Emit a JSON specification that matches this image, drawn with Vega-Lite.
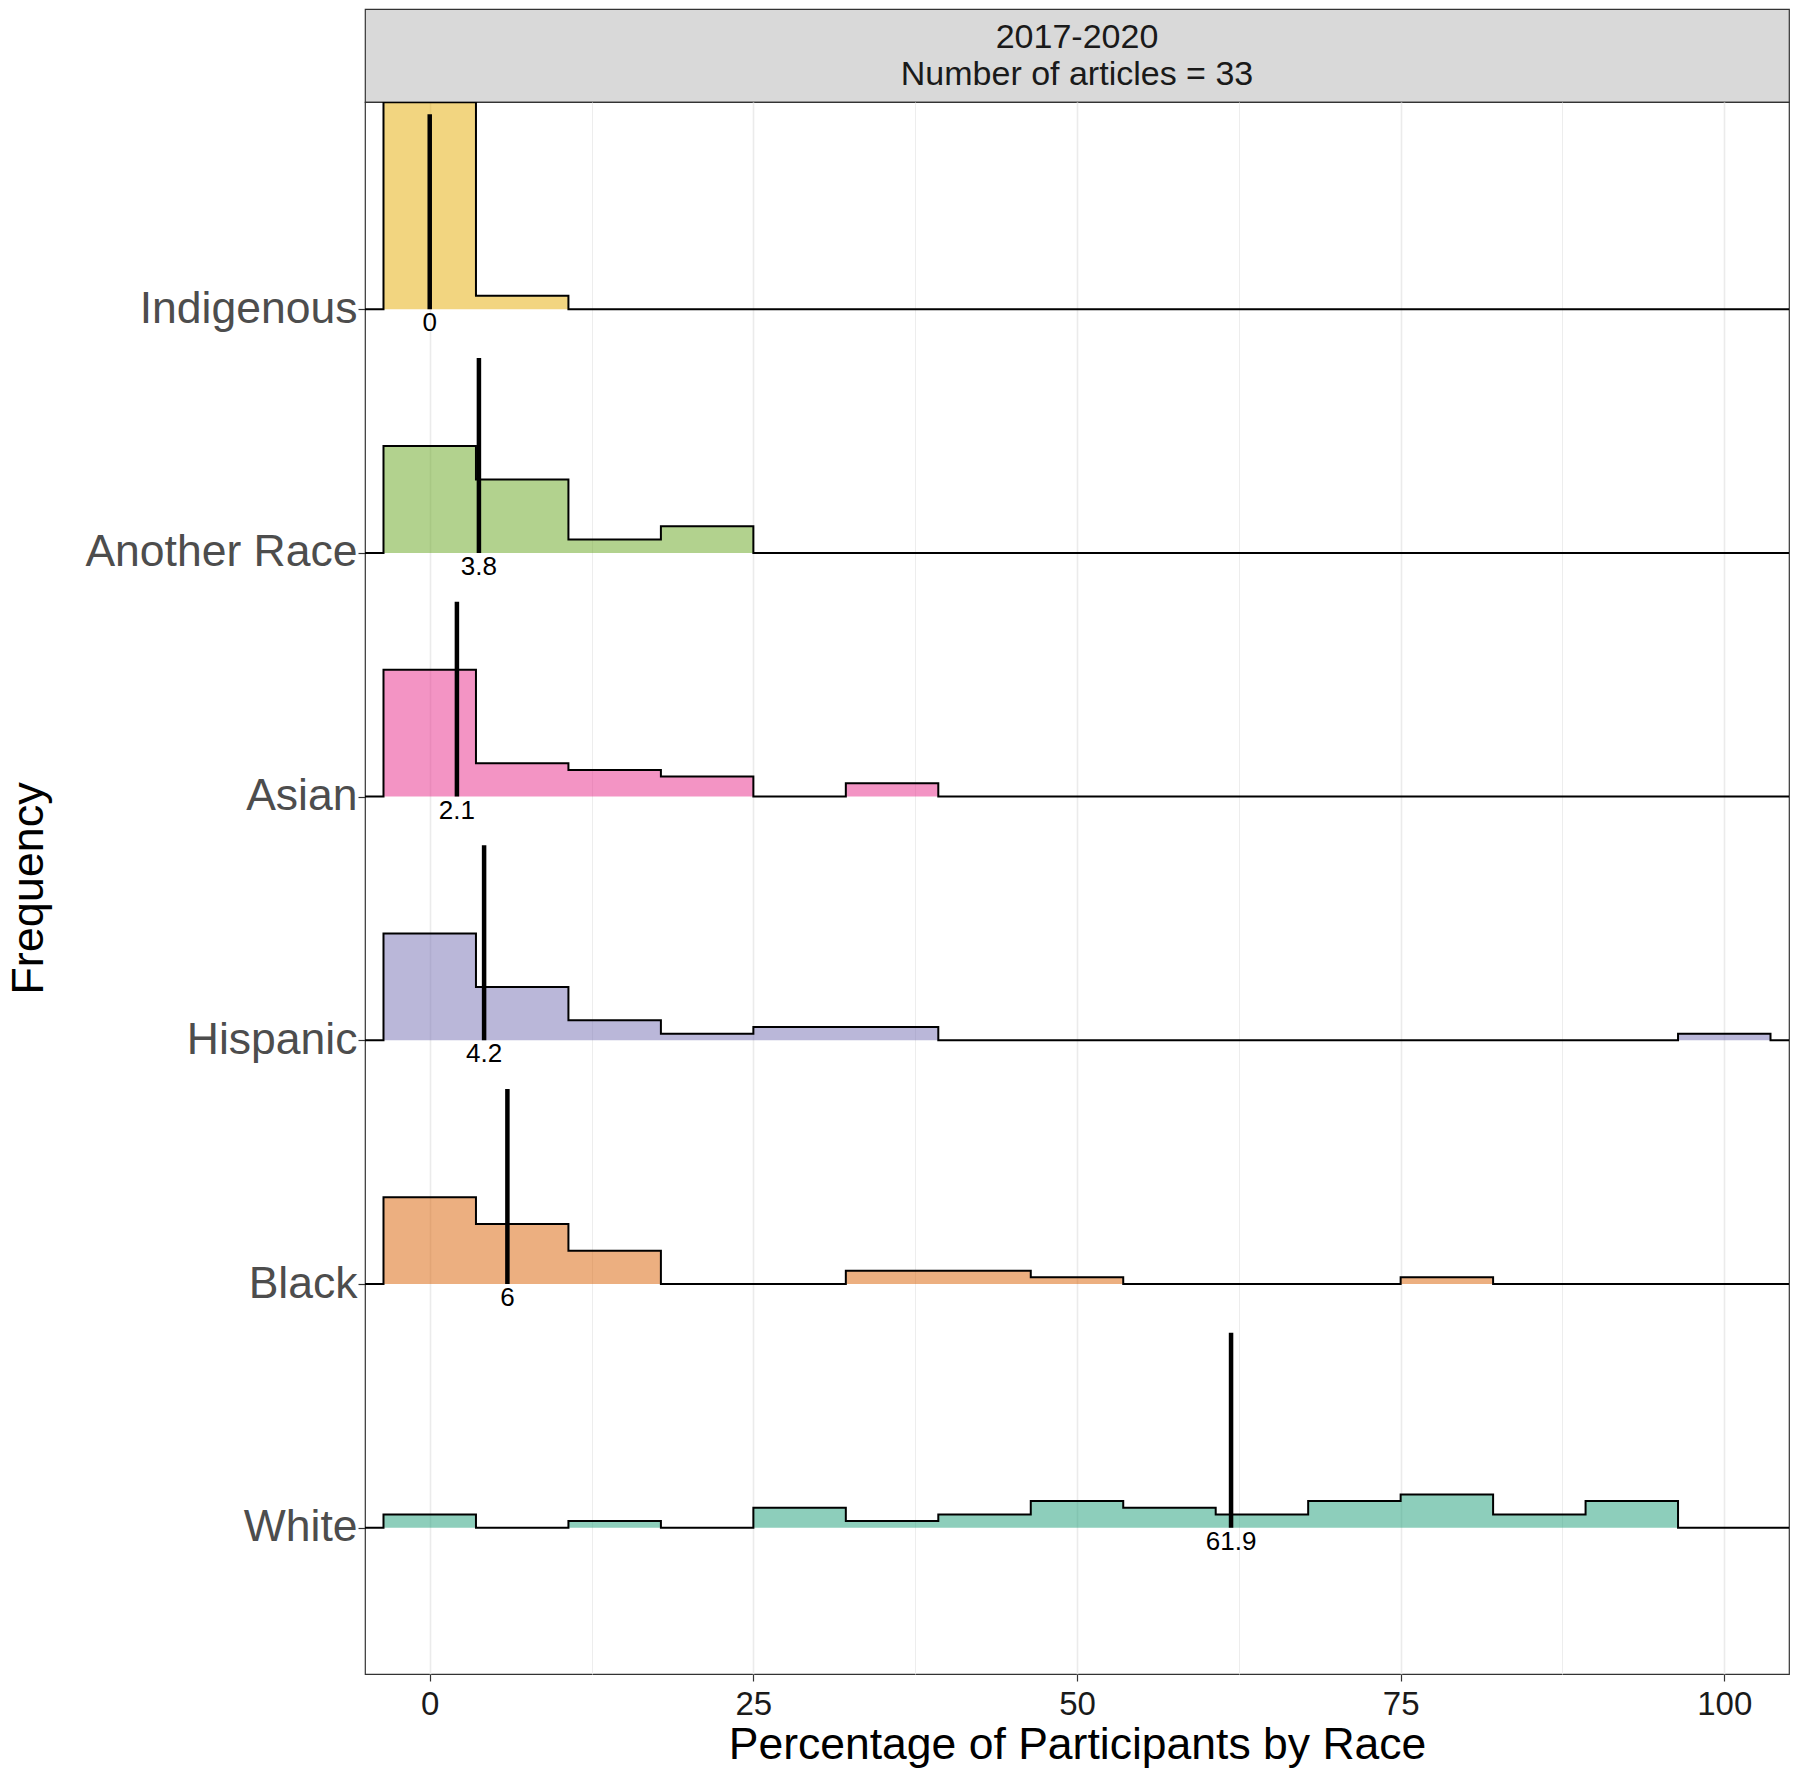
{
  "$schema": "https://vega.github.io/schema/vega-lite/v6.json",
  "autosize": {"type": "pad"},
  "padding": {"left": 5, "top": 8, "right": 11, "bottom": 5},
  "background": "white",
  "spacing": 0,
  "bounds": "flush",
  "config": {
    "font": "Liberation Sans",
    "axis": {"labelFont": "Liberation Sans", "titleFont": "Liberation Sans", "titleFontWeight": "normal", "titleColor": "#000000", "domain": false, "tickColor": "#333333", "tickWidth": 1.2}
  },
  "datasets": {
    "bins": [
      {"race": "White", "mid": -7.142857, "count": 0},
      {"race": "White", "mid": 0, "count": 2},
      {"race": "White", "mid": 7.142857, "count": 0},
      {"race": "White", "mid": 14.285714, "count": 1},
      {"race": "White", "mid": 21.428571, "count": 0},
      {"race": "White", "mid": 28.571429, "count": 3},
      {"race": "White", "mid": 35.714286, "count": 1},
      {"race": "White", "mid": 42.857143, "count": 2},
      {"race": "White", "mid": 50, "count": 4},
      {"race": "White", "mid": 57.142857, "count": 3},
      {"race": "White", "mid": 64.285714, "count": 2},
      {"race": "White", "mid": 71.428571, "count": 4},
      {"race": "White", "mid": 78.571429, "count": 5},
      {"race": "White", "mid": 85.714286, "count": 2},
      {"race": "White", "mid": 92.857143, "count": 4},
      {"race": "White", "mid": 100, "count": 0},
      {"race": "White", "mid": 107.142857, "count": 0},
      {"race": "Black", "mid": -7.142857, "count": 0},
      {"race": "Black", "mid": 0, "count": 13},
      {"race": "Black", "mid": 7.142857, "count": 9},
      {"race": "Black", "mid": 14.285714, "count": 5},
      {"race": "Black", "mid": 21.428571, "count": 0},
      {"race": "Black", "mid": 28.571429, "count": 0},
      {"race": "Black", "mid": 35.714286, "count": 2},
      {"race": "Black", "mid": 42.857143, "count": 2},
      {"race": "Black", "mid": 50, "count": 1},
      {"race": "Black", "mid": 57.142857, "count": 0},
      {"race": "Black", "mid": 64.285714, "count": 0},
      {"race": "Black", "mid": 71.428571, "count": 0},
      {"race": "Black", "mid": 78.571429, "count": 1},
      {"race": "Black", "mid": 85.714286, "count": 0},
      {"race": "Black", "mid": 92.857143, "count": 0},
      {"race": "Black", "mid": 100, "count": 0},
      {"race": "Black", "mid": 107.142857, "count": 0},
      {"race": "Hispanic", "mid": -7.142857, "count": 0},
      {"race": "Hispanic", "mid": 0, "count": 16},
      {"race": "Hispanic", "mid": 7.142857, "count": 8},
      {"race": "Hispanic", "mid": 14.285714, "count": 3},
      {"race": "Hispanic", "mid": 21.428571, "count": 1},
      {"race": "Hispanic", "mid": 28.571429, "count": 2},
      {"race": "Hispanic", "mid": 35.714286, "count": 2},
      {"race": "Hispanic", "mid": 42.857143, "count": 0},
      {"race": "Hispanic", "mid": 50, "count": 0},
      {"race": "Hispanic", "mid": 57.142857, "count": 0},
      {"race": "Hispanic", "mid": 64.285714, "count": 0},
      {"race": "Hispanic", "mid": 71.428571, "count": 0},
      {"race": "Hispanic", "mid": 78.571429, "count": 0},
      {"race": "Hispanic", "mid": 85.714286, "count": 0},
      {"race": "Hispanic", "mid": 92.857143, "count": 0},
      {"race": "Hispanic", "mid": 100, "count": 1},
      {"race": "Hispanic", "mid": 107.142857, "count": 0},
      {"race": "Asian", "mid": -7.142857, "count": 0},
      {"race": "Asian", "mid": 0, "count": 19},
      {"race": "Asian", "mid": 7.142857, "count": 5},
      {"race": "Asian", "mid": 14.285714, "count": 4},
      {"race": "Asian", "mid": 21.428571, "count": 3},
      {"race": "Asian", "mid": 28.571429, "count": 0},
      {"race": "Asian", "mid": 35.714286, "count": 2},
      {"race": "Asian", "mid": 42.857143, "count": 0},
      {"race": "Asian", "mid": 50, "count": 0},
      {"race": "Asian", "mid": 57.142857, "count": 0},
      {"race": "Asian", "mid": 64.285714, "count": 0},
      {"race": "Asian", "mid": 71.428571, "count": 0},
      {"race": "Asian", "mid": 78.571429, "count": 0},
      {"race": "Asian", "mid": 85.714286, "count": 0},
      {"race": "Asian", "mid": 92.857143, "count": 0},
      {"race": "Asian", "mid": 100, "count": 0},
      {"race": "Asian", "mid": 107.142857, "count": 0},
      {"race": "Another Race", "mid": -7.142857, "count": 0},
      {"race": "Another Race", "mid": 0, "count": 16},
      {"race": "Another Race", "mid": 7.142857, "count": 11},
      {"race": "Another Race", "mid": 14.285714, "count": 2},
      {"race": "Another Race", "mid": 21.428571, "count": 4},
      {"race": "Another Race", "mid": 28.571429, "count": 0},
      {"race": "Another Race", "mid": 35.714286, "count": 0},
      {"race": "Another Race", "mid": 42.857143, "count": 0},
      {"race": "Another Race", "mid": 50, "count": 0},
      {"race": "Another Race", "mid": 57.142857, "count": 0},
      {"race": "Another Race", "mid": 64.285714, "count": 0},
      {"race": "Another Race", "mid": 71.428571, "count": 0},
      {"race": "Another Race", "mid": 78.571429, "count": 0},
      {"race": "Another Race", "mid": 85.714286, "count": 0},
      {"race": "Another Race", "mid": 92.857143, "count": 0},
      {"race": "Another Race", "mid": 100, "count": 0},
      {"race": "Another Race", "mid": 107.142857, "count": 0},
      {"race": "Indigenous", "mid": -7.142857, "count": 0},
      {"race": "Indigenous", "mid": 0, "count": 31},
      {"race": "Indigenous", "mid": 7.142857, "count": 2},
      {"race": "Indigenous", "mid": 14.285714, "count": 0},
      {"race": "Indigenous", "mid": 21.428571, "count": 0},
      {"race": "Indigenous", "mid": 28.571429, "count": 0},
      {"race": "Indigenous", "mid": 35.714286, "count": 0},
      {"race": "Indigenous", "mid": 42.857143, "count": 0},
      {"race": "Indigenous", "mid": 50, "count": 0},
      {"race": "Indigenous", "mid": 57.142857, "count": 0},
      {"race": "Indigenous", "mid": 64.285714, "count": 0},
      {"race": "Indigenous", "mid": 71.428571, "count": 0},
      {"race": "Indigenous", "mid": 78.571429, "count": 0},
      {"race": "Indigenous", "mid": 85.714286, "count": 0},
      {"race": "Indigenous", "mid": 92.857143, "count": 0},
      {"race": "Indigenous", "mid": 100, "count": 0},
      {"race": "Indigenous", "mid": 107.142857, "count": 0}
    ],
    "centers": [
      {"race": "Indigenous", "value": 0},
      {"race": "Another Race", "value": 3.8},
      {"race": "Asian", "value": 2.1},
      {"race": "Hispanic", "value": 4.2},
      {"race": "Black", "value": 6},
      {"race": "White", "value": 61.9}
    ]
  },
  "vconcat": [
    {
      "width": 1424,
      "height": 93,
      "view": {"fill": "#D9D9D9", "stroke": "#333333", "strokeWidth": 1.2},
      "data": {"values": [{"period": "2017-2020", "articles": 33}]},
      "mark": {"type": "text", "text": ["2017-2020", "Number of articles = 33"], "fontSize": 34, "lineHeight": 37, "dy": -18, "font": "Liberation Sans", "color": "#1A1A1A", "align": "center", "baseline": "middle"},
      "encoding": {
        "x": {"datum": 0.5, "type": "quantitative", "scale": {"domain": [0, 1]}, "axis": null},
        "y": {"datum": 0.5, "type": "quantitative", "scale": {"domain": [0, 1]}, "axis": null}
      }
    },
    {
      "width": 1424,
      "height": 1572,
      "view": {"stroke": "#333333", "strokeWidth": 1.2, "fill": "white"},
      "layer": [
        {
          "data": {"name": "bins"},
          "transform": [
            {"calculate": "indexof(['White','Black','Hispanic','Asian','Another Race','Indigenous'], datum.race) + 1", "as": "base"},
            {"calculate": "datum.base + datum.count / 36.5", "as": "top"}
          ],
          "mark": {"type": "area", "interpolate": "step", "clip": true, "fillOpacity": 0.5},
          "encoding": {
            "x": {"field": "mid", "type": "quantitative", "title": "Percentage of Participants by Race",
              "scale": {"domain": [-5, 105], "nice": false, "zero": false},
              "axis": {"values": [0, 12.5, 25, 37.5, 50, 62.5, 75, 87.5, 100],
                "labelExpr": "datum.value % 25 === 0 ? datum.label : ''",
                "grid": true, "gridColor": "#EBEBEB",
                "gridWidth": {"condition": {"test": "datum.value % 25 === 0", "value": 1.6}, "value": 0.9},
                "tickOpacity": {"condition": {"test": "datum.value % 25 === 0", "value": 1}, "value": 0},
                "tickSize": 7, "labelFontSize": 33, "labelColor": "#1A1A1A", "labelPadding": 7,
                "labelOverlap": false, "labelFlush": false,
                "titleFontSize": 44.5, "titlePadding": 2}},
            "y": {"field": "top", "type": "quantitative", "title": "Frequency",
              "scale": {"domain": [0.4, 6.85], "nice": false, "zero": false},
              "axis": {"values": [1, 2, 3, 4, 5, 6],
                "labelExpr": "['', 'White', 'Black', 'Hispanic', 'Asian', 'Another Race', 'Indigenous'][datum.value]",
                "grid": false, "tickSize": 7, "labelFontSize": 44.5, "labelColor": "#4D4D4D", "labelPadding": 1,
                "labelLimit": 0,
                "labelBaseline": "middle", "labelOverlap": false, "labelFlush": false,
                "titleFontSize": 45, "titlePadding": 113.5}},
            "y2": {"field": "base"},
            "color": {"field": "race", "type": "nominal", "legend": null,
              "scale": {"domain": ["White", "Black", "Hispanic", "Asian", "Another Race", "Indigenous"],
                "range": ["#1B9E77", "#D95F02", "#7570B3", "#E7298A", "#66A61E", "#E6AB02"]}}
          }
        },
        {
          "data": {"name": "bins"},
          "transform": [
            {"calculate": "indexof(['White','Black','Hispanic','Asian','Another Race','Indigenous'], datum.race) + 1", "as": "base"},
            {"calculate": "datum.base + datum.count / 36.5", "as": "top"}
          ],
          "mark": {"type": "line", "interpolate": "step", "clip": true, "color": "#000000", "strokeWidth": 2},
          "encoding": {
            "x": {"field": "mid", "type": "quantitative", "title": "Percentage of Participants by Race"},
            "y": {"field": "top", "type": "quantitative", "title": "Frequency"},
            "detail": {"field": "race", "type": "nominal"}
          }
        },
        {
          "data": {"name": "centers"},
          "transform": [
            {"calculate": "indexof(['White','Black','Hispanic','Asian','Another Race','Indigenous'], datum.race) + 1", "as": "base"},
            {"calculate": "datum.base + 0.8", "as": "tip"}
          ],
          "mark": {"type": "rule", "color": "#000000", "strokeWidth": 4.5},
          "encoding": {
            "x": {"field": "value", "type": "quantitative", "title": "Percentage of Participants by Race"},
            "y": {"field": "base", "type": "quantitative", "title": "Frequency"},
            "y2": {"field": "tip"}
          }
        },
        {
          "data": {"name": "centers"},
          "transform": [
            {"calculate": "indexof(['White','Black','Hispanic','Asian','Another Race','Indigenous'], datum.race) + 1", "as": "base"}
          ],
          "mark": {"type": "text", "baseline": "top", "align": "center", "dy": 1, "fontSize": 26, "color": "#000000", "font": "Liberation Sans"},
          "encoding": {
            "x": {"field": "value", "type": "quantitative", "title": "Percentage of Participants by Race"},
            "y": {"field": "base", "type": "quantitative", "title": "Frequency"},
            "text": {"field": "value", "type": "nominal"}
          }
        }
      ]
    }
  ]
}
